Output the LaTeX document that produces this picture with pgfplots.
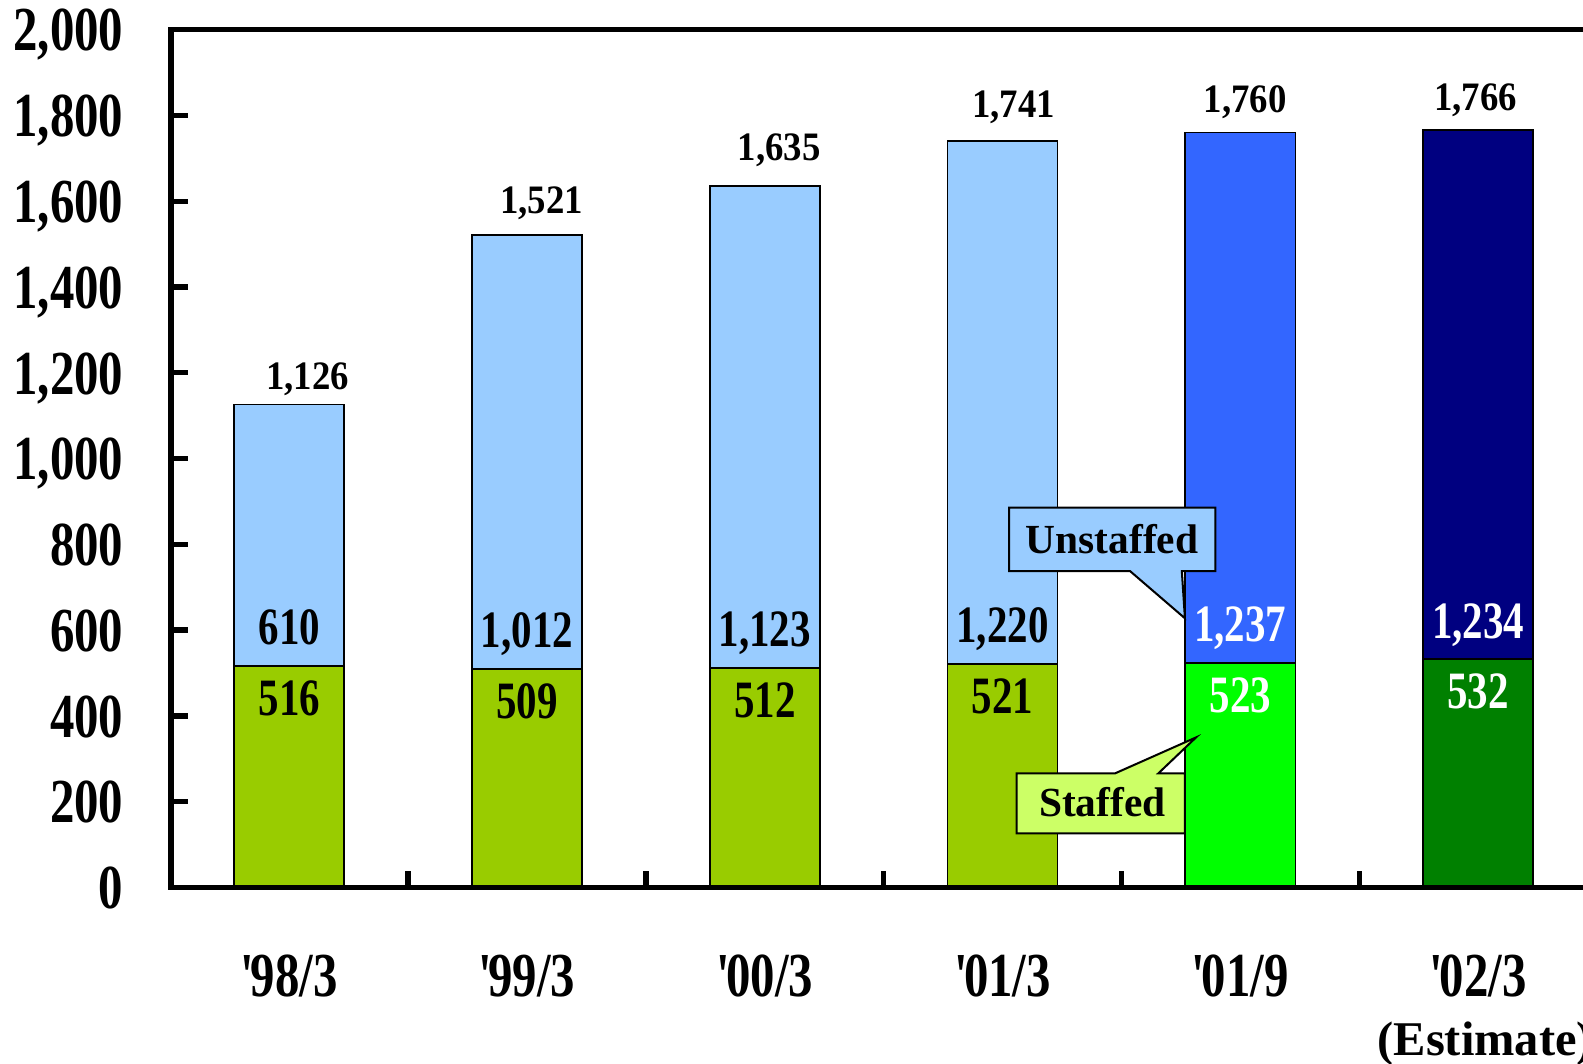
\documentclass[border=0pt]{standalone}
\usepackage{fontspec}
\setmainfont{Liberation Serif}
\newfontfamily\condA{Liberation Serif}[FakeStretch=0.78]
\newfontfamily\condB{Liberation Serif}[FakeStretch=0.91]
\usepackage{pgfplots}
\usepackage{pgfplotstable}
\pgfplotsset{compat=1.18}

\definecolor{ltblue}{HTML}{99CCFF}
\definecolor{olivegr}{HTML}{99CC00}
\definecolor{bblue}{HTML}{3366FF}
\definecolor{limegr}{HTML}{00FF00}
\definecolor{navyb}{HTML}{000080}
\definecolor{dgreen}{HTML}{008000}
\definecolor{callg}{HTML}{CCFF66}

\newcommand{\q}{\textquotesingle\kern-0.12em}

% category index, staffed, unstaffed, total
\pgfplotstableread{
x staffed unstaffed total
0 516 610 1126
1 509 1012 1521
2 512 1123 1635
3 521 1220 1741
}\past
\pgfplotstableread{
x staffed unstaffed total
4 523 1237 1760
}\sep
\pgfplotstableread{
x staffed unstaffed total
5 532 1234 1766
}\est

% label positions
\pgfplotstableread{
x y lab
0.077 1160 1,126
1.061 1572 1,521
2.06 1696 1,635
3.046 1796 1,741
4.02 1808 1,760
4.99 1812 1,766
}\toplabels
\pgfplotstableread{
x y lab
0 516 610
1 509 1,012
2 512 1,123
3 521 1,220
}\unstlabA
\pgfplotstableread{
x y lab
4 523 1,237
5 532 1,234
}\unstlabB
\pgfplotstableread{
x y lab
0 516 516
1 509 509
2 512 512
3 521 521
}\stlabA
\pgfplotstableread{
x y lab
4 523 523
5 532 532
}\stlabB

\begin{document}
\begin{tikzpicture}
\begin{axis}[
  scale only axis, width=423.7pt, height=254.9pt,
  xmin=-0.4968, xmax=5.5, ymin=0, ymax=2000,
  clip=false, axis on top,
  axis line style={line width=1.6pt, black},
  tick style={line width=1.6pt, black},
  major tick length=5pt,
  tick align=inside, tick pos=left,
  /pgf/number format/assume math mode=true,
  scaled y ticks=false,
  ytick={0,200,...,2000},
  yticklabel style={font=\condA\bfseries\fontsize{18.6}{18.6}\selectfont,
    anchor=base east, inner sep=0pt, xshift=-14pt, yshift=-6.3pt},
  xtick={0.5,1.5,2.5,3.5,4.5}, xticklabels={,,,,},
  extra x ticks={0,1,2,3,4,5},
  extra x tick labels={\q98/3,\q99/3,\q00/3,\q01/3,\q01/9,\q02/3},
  extra x tick style={major tick length=0pt, tick style={draw=none}},
  xticklabel style={font=\condA\bfseries\fontsize{18.6}{18.6}\selectfont,
    anchor=base, inner sep=0pt, yshift=-32.4pt},
  bar width=0.463, bar shift=0pt,
]
% unstaffed (full bar height = total), staffed drawn on top
\addplot[ybar, bar width=0.463, bar shift=0pt, fill=ltblue, draw=black, line width=0.5pt] table[x=x, y=total] {\past};
\addplot[ybar, bar width=0.463, bar shift=0pt, fill=bblue, draw=black, line width=0.5pt] table[x=x, y=total] {\sep};
\addplot[ybar, bar width=0.463, bar shift=0pt, fill=navyb, draw=black, line width=0.5pt] table[x=x, y=total] {\est};
\addplot[ybar, bar width=0.463, bar shift=0pt, fill=olivegr, draw=black, line width=0.5pt] table[x=x, y=staffed] {\past};
\addplot[ybar, bar width=0.463, bar shift=0pt, fill=limegr, draw=black, line width=0.5pt] table[x=x, y=staffed] {\sep};
\addplot[ybar, bar width=0.463, bar shift=0pt, fill=dgreen, draw=black, line width=0.5pt] table[x=x, y=staffed] {\est};

% labels
\addplot[draw=none, mark=none, nodes near coords, point meta=explicit symbolic,
  nodes near coords style={anchor=base, inner sep=0pt, text=black,
  font=\condB\bfseries\fontsize{12}{12}\selectfont}] table[x=x, y=y, meta=lab] {\toplabels};
\addplot[draw=none, mark=none, nodes near coords, point meta=explicit symbolic,
  nodes near coords style={anchor=base, inner sep=0pt, yshift=6.3pt, text=black,
  font=\condA\bfseries\fontsize{15.6}{15.6}\selectfont}] table[x=x, y=y, meta=lab] {\unstlabA};
\addplot[draw=none, mark=none, nodes near coords, point meta=explicit symbolic,
  nodes near coords style={anchor=base, inner sep=0pt, yshift=6.3pt, text=white,
  font=\condA\bfseries\fontsize{15.6}{15.6}\selectfont}] table[x=x, y=y, meta=lab] {\unstlabB};
\addplot[draw=none, mark=none, nodes near coords, point meta=explicit symbolic,
  nodes near coords style={anchor=base, inner sep=0pt, yshift=-14.6pt, text=black,
  font=\condA\bfseries\fontsize{15.6}{15.6}\selectfont}] table[x=x, y=y, meta=lab] {\stlabA};
\addplot[draw=none, mark=none, nodes near coords, point meta=explicit symbolic,
  nodes near coords style={anchor=base, inner sep=0pt, yshift=-14.6pt, text=white,
  font=\condA\bfseries\fontsize{15.6}{15.6}\selectfont}] table[x=x, y=y, meta=lab] {\stlabB};

% callouts
\draw[fill=ltblue, draw=black, line width=0.6pt]
  (axis cs:3.028,885.4) -- (axis cs:3.895,885.4) -- (axis cs:3.895,737.8)
  -- (axis cs:3.754,737.8) -- (axis cs:3.767,627.6) -- (axis cs:3.536,737.8)
  -- (axis cs:3.028,737.8) -- cycle;
\node[anchor=base, inner sep=0pt, font=\bfseries\fontsize{12.3}{12.3}\selectfont]
  at (axis cs:3.461,779) {Unstaffed};
\draw[fill=callg, draw=black, line width=0.6pt]
  (axis cs:3.059,266) -- (axis cs:3.473,266) -- (axis cs:3.814,350)
  -- (axis cs:3.655,266) -- (axis cs:3.767,266) -- (axis cs:3.767,126.2)
  -- (axis cs:3.059,126.2) -- cycle;
\node[anchor=base, inner sep=0pt, font=\bfseries\fontsize{12.3}{12.3}\selectfont]
  at (axis cs:3.420,165) {Staffed};

\node[anchor=base, inner sep=0pt, font=\bfseries\fontsize{14.4}{14.4}\selectfont]
  at (axis cs:5.03,0) [yshift=-49.8pt] {(Estimate)};

\coordinate (bl) at (rel axis cs:0,0);
\coordinate (tl) at (rel axis cs:0,1);
\end{axis}
\pgfresetboundingbox
\path[use as bounding box] ([xshift=-50.85pt,yshift=-52.2pt]bl) rectangle ([xshift=419.55pt,yshift=8.82pt]tl);
\end{tikzpicture}
\end{document}
